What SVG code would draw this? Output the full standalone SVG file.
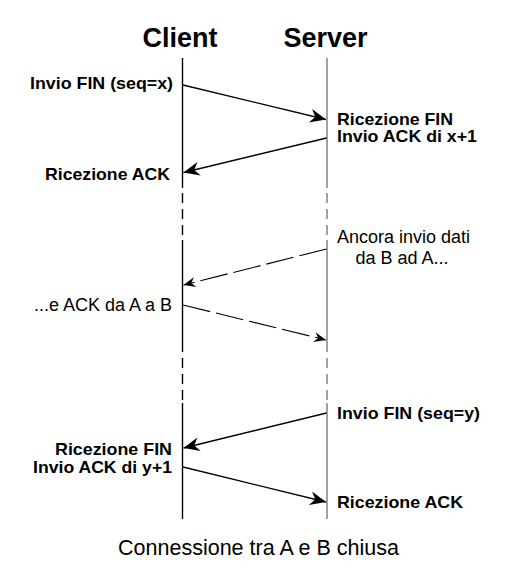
<svg xmlns="http://www.w3.org/2000/svg" width="512" height="578" viewBox="0 0 512 578">
<style>
  .hdr { font-family: "Liberation Sans", Arial, sans-serif; font-weight: bold; font-size: 27px; fill: #000; }
  .lb { font-family: "Liberation Sans", Arial, sans-serif; font-weight: bold; font-size: 16.5px; fill: #000; }
  .rg { font-family: "Liberation Sans", Arial, sans-serif; font-size: 18px; fill: #000; }
  .cap { font-family: "Liberation Sans", Arial, sans-serif; font-size: 21.5px; fill: #000; }
  .life { fill: none; stroke-width: 1.4; }
  .gap { stroke-dasharray: 10 6; }
  .msg { fill: none; stroke: #000; stroke-width: 1.3; }
  .dmsg { fill: none; stroke: #000; stroke-width: 1.1; stroke-dasharray: 28 6; }
</style>
<defs>
  <marker id="ah" markerUnits="userSpaceOnUse" viewBox="-17 -8 18 16" markerWidth="18" markerHeight="16" refX="0" refY="0" orient="auto">
    <path d="M0,0 L-16,-7 L-11,0 L-16,7 Z" fill="#000"/>
  </marker>
  <marker id="ahs" markerUnits="userSpaceOnUse" viewBox="-13 -6 14 12" markerWidth="14" markerHeight="12" refX="0" refY="0" orient="auto">
    <path d="M0,0 L-12,-5 L-8,0 L-12,5 Z" fill="#000"/>
  </marker>
</defs>
<rect width="512" height="578" fill="#fff"/>

<g id="client">
  <text class="hdr" x="180" y="47" text-anchor="middle">Client</text>
  <g stroke="#000">
    <line class="life" x1="182.5" y1="58" x2="182.5" y2="188"/>
    <line class="life gap" x1="182.5" y1="193" x2="182.5" y2="240"/>
    <line class="life" x1="182.5" y1="240" x2="182.5" y2="352"/>
    <line class="life gap" x1="182.5" y1="358" x2="182.5" y2="403"/>
    <line class="life" x1="182.5" y1="403" x2="182.5" y2="519"/>
  </g>
</g>

<g id="server">
  <text class="hdr" x="325.5" y="47" text-anchor="middle">Server</text>
  <g stroke="#7a7a7a">
    <line class="life" x1="327" y1="58" x2="327" y2="188"/>
    <line class="life gap" x1="327" y1="193" x2="327" y2="240"/>
    <line class="life" x1="327" y1="240" x2="327" y2="352"/>
    <line class="life gap" x1="327" y1="358" x2="327" y2="403"/>
    <line class="life" x1="327" y1="403" x2="327" y2="519"/>
  </g>
</g>

<g id="connectors">
  <line class="msg" x1="183" y1="85" x2="326" y2="119.5" marker-end="url(#ah)"/>
  <line class="msg" x1="326.5" y1="138" x2="183.5" y2="172.5" marker-end="url(#ah)"/>
  <line class="dmsg" x1="326.5" y1="249" x2="183.5" y2="285" marker-end="url(#ahs)"/>
  <line class="dmsg" x1="183" y1="305" x2="326" y2="340" marker-end="url(#ahs)"/>
  <line class="msg" x1="326.5" y1="413" x2="183.5" y2="448" marker-end="url(#ah)"/>
  <line class="msg" x1="183" y1="467" x2="326" y2="502" marker-end="url(#ah)"/>
</g>

<g id="labels">
  <text class="lb" x="30" y="89" textLength="143" lengthAdjust="spacingAndGlyphs">Invio FIN (seq=x)</text>
  <text class="lb" x="337" y="124.5" textLength="116" lengthAdjust="spacingAndGlyphs">Ricezione FIN</text>
  <text class="lb" x="337" y="142" textLength="140" lengthAdjust="spacingAndGlyphs">Invio ACK di x+1</text>
  <text class="lb" x="45" y="180" textLength="125" lengthAdjust="spacingAndGlyphs">Ricezione ACK</text>
  <text class="rg" x="403.5" y="243" text-anchor="middle">Ancora invio dati</text>
  <text class="rg" x="402" y="264" text-anchor="middle">da B ad A...</text>
  <text class="rg" x="172" y="311" text-anchor="end">...e ACK da A a B</text>
  <text class="lb" x="337" y="419" textLength="143" lengthAdjust="spacingAndGlyphs">Invio FIN (seq=y)</text>
  <text class="lb" x="55" y="455" textLength="117" lengthAdjust="spacingAndGlyphs">Ricezione FIN</text>
  <text class="lb" x="33" y="473" textLength="139" lengthAdjust="spacingAndGlyphs">Invio ACK di y+1</text>
  <text class="lb" x="337" y="508" textLength="126" lengthAdjust="spacingAndGlyphs">Ricezione ACK</text>
</g>

<g id="caption">
  <text class="cap" x="258.5" y="555" text-anchor="middle">Connessione tra A e B chiusa</text>
</g>
</svg>
